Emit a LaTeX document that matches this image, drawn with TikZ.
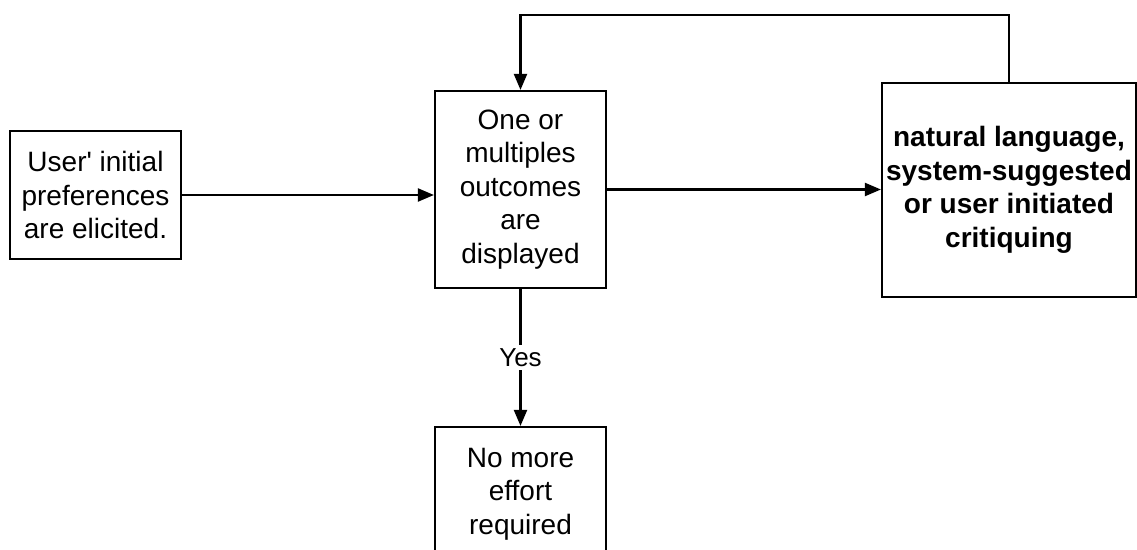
\documentclass[tikz,border=0pt]{standalone}
\usepackage{fontspec}
\setmainfont{Liberation Sans}[Ligatures=TeXOff]
\usetikzlibrary{arrows.meta}
\begin{document}
\begin{tikzpicture}[
  x=1pt,y=-1pt,
  box/.style={draw=black,line width=2.2pt,align=center,inner sep=0pt,
    font=\fontsize{28pt}{33.5pt}\selectfont},
  arr/.style={line width=2.2pt,-{Triangle[length=16pt,width=13pt]}},
  lbl/.style={fill=white,inner sep=3pt,font=\fontsize{26pt}{30pt}\selectfont}
]
\useasboundingbox (0,0) rectangle (1137,549);
\clip (0,0) rectangle (1137,549);
\node[box,minimum width=171pt,minimum height=128pt] (A) at (95.5,195)
  {User' initial\\preferences\\are elicited.};
\node[box,minimum width=171pt,minimum height=197pt] (B) at (520.5,189.5)
  {One or\\multiples\\outcomes\\are\\displayed};
\node[box,minimum width=254pt,minimum height=214pt,font=\fontsize{28pt}{33.5pt}\selectfont\bfseries] (C) at (1009,190)
  {natural language,\\system-suggested\\or user initiated\\critiquing};
\node[box,minimum width=171pt,minimum height=134pt] (D) at (520.5,494)
  {No more\\effort\\required};
\coordinate (fb) at (0,15);
\draw[arr] (A.east) -- (A.east -| B.west);
\draw[arr] (B.east) -- (B.east -| C.west);
\draw[arr] (C.north) -- (C.north |- fb) -- (B.north |- fb) -- (B.north);
\draw[arr] (B.south) -- node[lbl] {Yes} (D.north);
\end{tikzpicture}
\end{document}
